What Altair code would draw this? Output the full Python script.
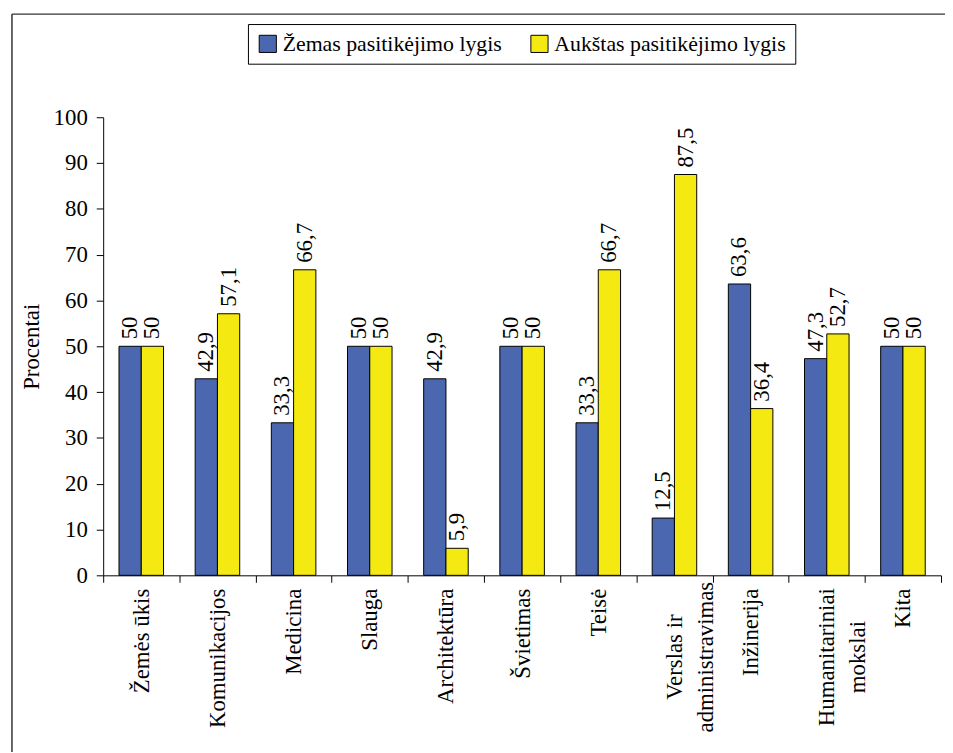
import altair as alt
import pandas as pd

categories = ["Žemės ūkis", "Komunikacijos", "Medicina", "Slauga", "Architektūra",
              "Švietimas", "Teisė", "Verslas ir administravimas", "Inžinerija",
              "Humanitariniai mokslai", "Kita"]
series_names = ["Žemas pasitikėjimo lygis", "Aukštas pasitikėjimo lygis"]
low_values = [50, 42.9, 33.3, 50, 42.9, 50, 33.3, 12.5, 63.6, 47.3, 50]
high_values = [50, 57.1, 66.7, 50, 5.9, 50, 66.7, 87.5, 36.4, 52.7, 50]
y_ticks = list(range(0, 101, 10))
colors = ["#4a67b0", "#f5e912"]

rows = []
for c, lo, hi in zip(categories, low_values, high_values):
    for s, v in zip(series_names, [lo, hi]):
        rows.append({"cat": c, "series": s, "value": v,
                     "label": f"{v:g}".replace(".", ",")})
df = pd.DataFrame(rows)

FONT = "Liberation Serif, Times New Roman, serif"
W, H = 845, 462

multi = "datum.value == 'Verslas ir administravimas' || datum.value == 'Humanitariniai mokslai'"

x_enc = alt.X(
    "cat:N", sort=categories, title=None,
    scale=alt.Scale(paddingInner=0, paddingOuter=0),
    axis=alt.Axis(
        labelAngle=-90,
        labelAlign={"condition": {"test": multi, "value": "center"}, "value": "right"},
        labelPadding={"condition": {"test": multi, "value": 75}, "value": 6},
        labelBaseline="middle",
        labelExpr="datum.label == 'Verslas ir administravimas' ? ['Verslas ir', 'administravimas'] : datum.label == 'Humanitariniai mokslai' ? ['Humanitariniai', 'mokslai'] : datum.label",
        labelLineHeight=31,
        tickBand="extent", tickSize=7, tickColor="black", domainColor="black",
        labelFont=FONT, labelFontSize=23, labelFontWeight="normal",
        labelColor="black", labelLimit=400,
    ),
)
xoff = alt.XOffset("series:N", sort=series_names,
                   scale=alt.Scale(paddingInner=0, paddingOuter=0.71))
y_enc = alt.Y(
    "value:Q",
    scale=alt.Scale(domain=[0, 100], nice=False),
    axis=alt.Axis(
        title="Procentai", values=y_ticks, grid=False, tickSize=7,
        tickColor="black", domainColor="black",
        labelFont=FONT, labelFontSize=23, labelFontWeight="normal",
        labelColor="black", labelPadding=9,
        titleFont=FONT, titleFontSize=23, titleFontWeight="normal",
        titleColor="black", titlePadding=10,
    ),
)

bars = alt.Chart(df).mark_bar(stroke="black", strokeWidth=1).encode(
    x=x_enc, xOffset=xoff, y=y_enc,
    color=alt.Color(
        "series:N", sort=series_names,
        scale=alt.Scale(domain=series_names, range=colors),
        legend=alt.Legend(
            title=None, orient="none", legendX=146, legendY=-94,
            direction="horizontal", symbolType="square", symbolSize=300,
            symbolStrokeColor="black", symbolStrokeWidth=1,
            labelFont=FONT, labelFontSize=22, labelFontWeight="normal",
            labelColor="black",
            labelOffset=4, columnPadding=26, padding=9,
            strokeColor="black", fillColor="white", labelLimit=400,
        ),
    ),
)

texts = alt.Chart(df).mark_text(
    angle=270, align="left", baseline="middle", dx=7,
    font=FONT, fontSize=23, fontWeight="normal", color="black",
).encode(x=x_enc, xOffset=xoff, y=y_enc, text="label:N")

frame_df = pd.DataFrame({"k": [0]})
top_line = alt.Chart(frame_df).mark_rule(color="#333333", strokeWidth=1.5).encode(
    x=alt.value(-92), x2=alt.value(W + 20), y=alt.value(-104))
left_line = alt.Chart(frame_df).mark_rule(color="#333333", strokeWidth=1.5).encode(
    x=alt.value(-92), y=alt.value(-104), y2=alt.value(H + 200))

chart = alt.layer(top_line, left_line, bars, texts).properties(
    width=W, height=H,
    autosize=alt.AutoSizeParams(type="none"),
    padding={"left": 96, "top": 107, "right": 4, "bottom": 175},
).configure(background="white", font=FONT).configure_view(
    stroke="transparent"
)

chart.save("out.html", embed_options={"renderer": "svg", "actions": False})
